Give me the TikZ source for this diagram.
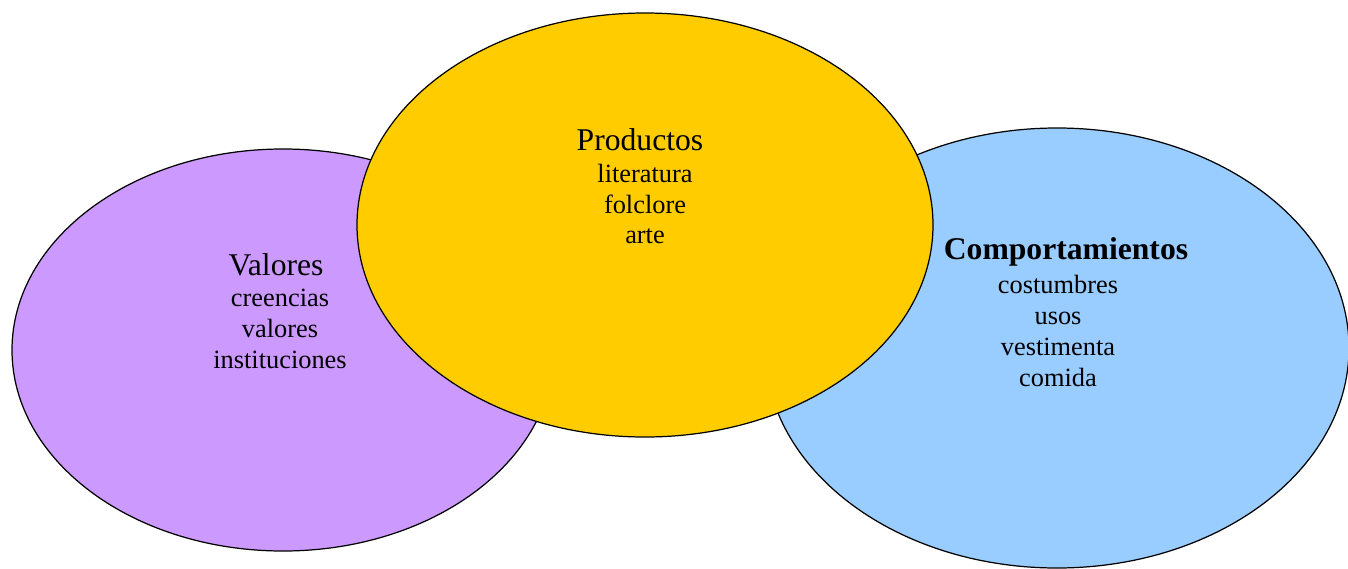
\documentclass[tikz,border=0pt]{standalone}
\usepackage{fontspec}
\setmainfont{Liberation Serif}
\usepackage{xcolor}
\usepackage{tikz}
\usetikzlibrary{shapes.geometric}
\definecolor{lila}{HTML}{CC99FF}
\definecolor{oro}{HTML}{FFCC00}
\definecolor{celeste}{HTML}{99CCFF}
\tikzset{
  blob/.style={ellipse, draw=black, line width=0.7pt, inner sep=0pt},
  headLbl/.style={font=\fontsize{18}{21}\selectfont, inner sep=0pt},
  boldLbl/.style={font=\fontsize{18}{21}\selectfont\bfseries, inner sep=0pt},
  itemLbl/.style={font=\fontsize{15}{17.6}\selectfont, align=center, inner sep=0pt},
}

\begin{document}
\begin{tikzpicture}
  \useasboundingbox (0,0) rectangle (26.96,11.36);

  % the three circles of culture
  \node[blob, fill=lila, minimum width=10.84cm, minimum height=8.04cm]    (valE) at (5.66,4.36) {};
  \node[blob, fill=celeste, minimum width=11.68cm, minimum height=8.8cm]  (comE) at (21.14,4.4) {};
  \node[blob, fill=oro, minimum width=11.52cm, minimum height=8.48cm]     (proE) at (12.9,6.86) {};

  \node[headLbl] (valT) at (5.52,6.06) {Valores};
  \node[itemLbl] (valL) at (5.6,4.78) {creencias\\valores\\instituciones};

  \node[headLbl] (proT) at (12.8,8.56) {Productos};
  \node[itemLbl] (proL) at (12.9,7.28) {literatura\\folclore\\arte};

  \node[boldLbl] (comT) at (21.32,6.32) {Comportamientos};
  \node[itemLbl] (comL) at (21.16,4.74) {costumbres\\usos\\vestimenta\\comida};
\end{tikzpicture}
\end{document}
